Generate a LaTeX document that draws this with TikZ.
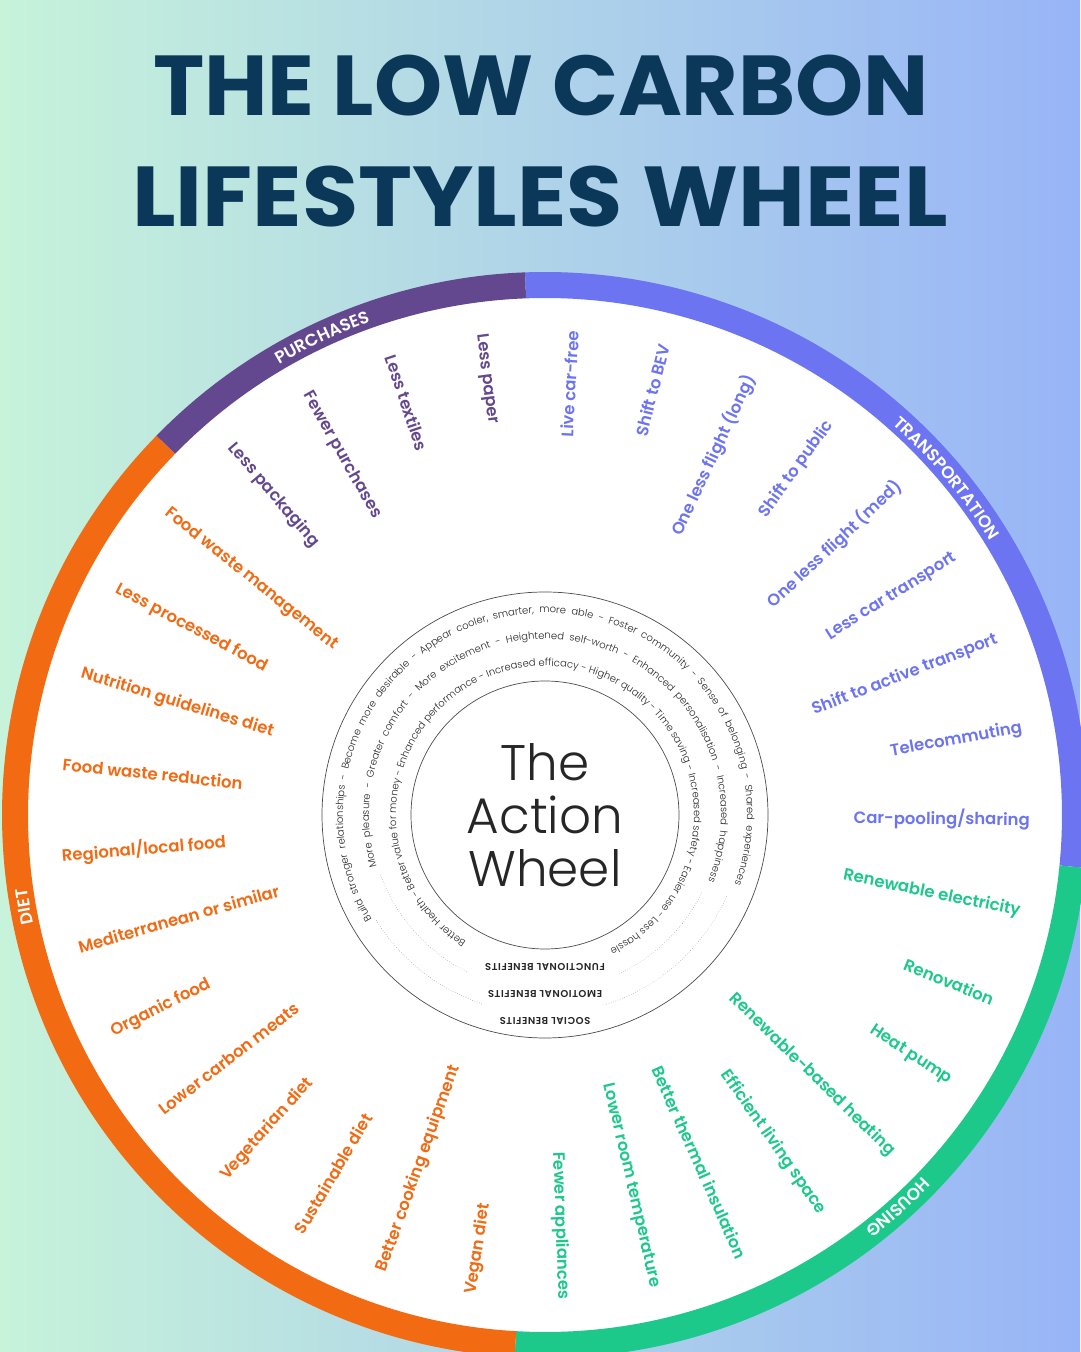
\documentclass[tikz,border=0pt]{standalone}
\usepackage{fontspec}
\setmainfont{Poppins}
\newfontfamily\psemi{Poppins SemiBold}
\newfontfamily\plight{Poppins Light}
\newfontfamily\pbold{Poppins Bold}
\newfontfamily\pbenf[LetterSpace=6]{Poppins SemiBold}
\usetikzlibrary{decorations.text}
\definecolor{cpur}{HTML}{64488F}
\definecolor{cblu}{HTML}{6C74F2}
\definecolor{cgrn}{HTML}{1CC98A}
\definecolor{cora}{HTML}{F26A12}
\definecolor{navy}{HTML}{0B3858}
\definecolor{bgl}{HTML}{C6F3DA}
\definecolor{bgr}{HTML}{98B4F7}
\newcommand\wlab[3]{%
 \pgfmathsetmacro\wang{86.7-10.909*#1}%
 \ifnum#1<17
  \node[lab,text=#3,anchor=east,rotate=\wang] (L#1) at (\wang:485) {#2};
 \else
  \node[lab,text=#3,anchor=west,rotate=\wang+180] (L#1) at (\wang:485) {#2};
 \fi}
\newcommand\bandseg[3]{\fill[#3] (#1:543) arc[start angle=#1,end angle=#2,radius=543] -- (#2:517) arc[start angle=#2,end angle=#1,radius=517] -- cycle;}
\newcommand\ringtext[4]{\path[decorate,decoration={text along path,text align={fit to path stretching spaces},text={|\plight\fontsize{10}{11}\selectfont\color{black!85}|#4}}] (#1:#3) arc[start angle=#1,end angle=#2,radius=#3];}
\newcommand\bandtext[4]{\path[decorate,decoration={text along path,text align=center,text={|\psemi\fontsize{17}{18}\selectfont\color{white}|#4}}] (#1:#3) arc[start angle=#1,end angle=#2,radius=#3];}
\begin{document}
\begin{tikzpicture}[x=1pt,y=1pt,
 lab/.style={font=\psemi\fontsize{16.5}{18}\selectfont,inner sep=0pt},
 title/.style={font=\pbold\fontsize{85}{90}\selectfont,text=navy,inner sep=0pt},
 benlab/.style={font=\pbenf\fontsize{10}{11}\selectfont,text=black!85,inner sep=0pt,rotate=180}]
\shade[left color=bgl,right color=bgr] (0,0) rectangle (1080,1352);
\useasboundingbox (0,0) rectangle (1080,1352);
\node[title,xscale=1.02] (t1) at (541,1266) {THE LOW CARBON};
\node[title,xscale=1.075] (t2) at (540,1155) {LIFESTYLES WHEEL};
\begin{scope}[shift={(545,537)}]
\fill[white] (0,0) circle[radius=530];
\bandseg{92.1}{135.7}{cpur}
\bandseg{-5.6}{92.1}{cblu}
\bandseg{-93.2}{-5.6}{cgrn}
\bandseg{135.7}{266.8}{cora}
\bandtext{135}{95}{523}{PURCHASES}
\bandtext{70}{10}{523}{TRANSPORTATION}
\bandtext{-25}{-71}{523}{HOUSING}
\bandtext{210}{170}{523}{DIET}
\wlab{0}{Live car-free}{cblu}
\wlab{1}{Shift to BEV}{cblu}
\wlab{2}{One less flight (long)}{cblu}
\wlab{3}{Shift to public}{cblu}
\wlab{4}{One less flight (med)}{cblu}
\wlab{5}{Less car transport}{cblu}
\wlab{6}{Shift to active transport}{cblu}
\wlab{7}{Telecommuting}{cblu}
\wlab{8}{Car-pooling/sharing}{cblu}
\wlab{9}{Renewable electricity}{cgrn}
\wlab{10}{Renovation}{cgrn}
\wlab{11}{Heat pump}{cgrn}
\wlab{12}{Renewable-based heating}{cgrn}
\wlab{13}{Efficient living space}{cgrn}
\wlab{14}{Better thermal insulation}{cgrn}
\wlab{15}{Lower room temperature}{cgrn}
\wlab{16}{Fewer appliances}{cgrn}
\wlab{17}{Vegan diet}{cora}
\wlab{18}{Better cooking equipment}{cora}
\wlab{19}{Sustainable diet}{cora}
\wlab{20}{Vegetarian diet}{cora}
\wlab{21}{Lower carbon meats}{cora}
\wlab{22}{Organic food}{cora}
\wlab{23}{Mediterranean or similar}{cora}
\wlab{24}{Regional/local food}{cora}
\wlab{25}{Food waste reduction}{cora}
\wlab{26}{Nutrition guidelines diet}{cora}
\wlab{27}{Less processed food}{cora}
\wlab{28}{Food waste management}{cora}
\wlab{29}{Less packaging}{cpur}
\wlab{30}{Fewer purchases}{cpur}
\wlab{31}{Less textiles}{cpur}
\wlab{32}{Less paper}{cpur}
\draw[black!70,line width=0.7pt] (0,0) circle[radius=223];
\draw[black!70,line width=0.7pt] (0,0) circle[radius=134];
\ringtext{211}{-20}{202}{Build stronger relationships  -  Become more desirable  -  Appear cooler, smarter, more able  -  Foster community  -  Sense of belonging  -  Shared experiences}
\ringtext{197}{-22}{176}{More pleasure  -  Greater comfort  -  More excitement  -  Heightened self-worth  -  Enhanced personalisation  -  Increased happiness}
\ringtext{238}{-63}{149}{Better Health  -  Better value for money  -  Enhanced performance  -  Increased efficacy  -  Higher quality  -  Time saving  -  Increased safety  -  Easier use  -  Less hassle}
\draw[black!60,dotted] (212:199) arc[start angle=212,end angle=252,radius=199];
\draw[black!60,dotted] (-72:199) arc[start angle=-72,end angle=-24,radius=199];
\draw[black!60,dotted] (200:175) arc[start angle=200,end angle=244,radius=175];
\draw[black!60,dotted] (-65:175) arc[start angle=-65,end angle=-26,radius=175];
\node[benlab] (b1) at (0,-206) {SOCIAL BENEFITS};
\node[benlab] (b2) at (0,-179) {EMOTIONAL BENEFITS};
\node[benlab] (b3) at (0,-152) {FUNCTIONAL BENEFITS};
\node[font=\plight\fontsize{50}{53}\selectfont,align=center,text=black!85] (ctr) at (0,0) {The\\Action\\Wheel};
\end{scope}
\end{tikzpicture}
\end{document}
